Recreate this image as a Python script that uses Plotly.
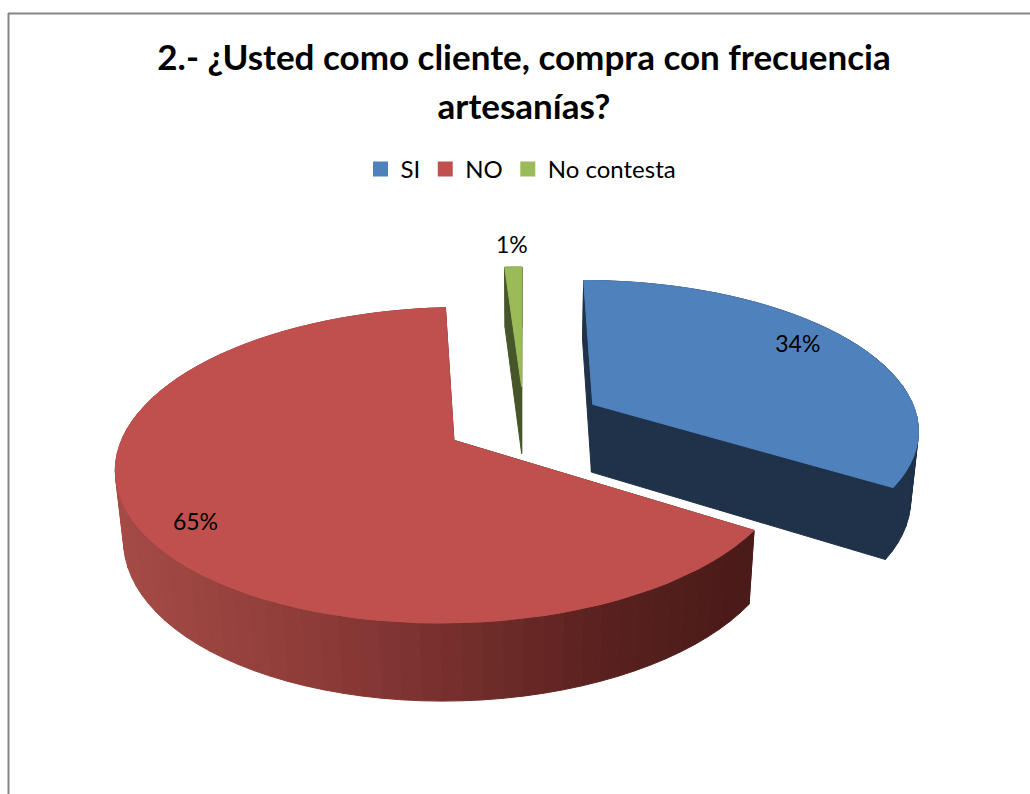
import math

import plotly.graph_objects as go

# datos
categorias = ["SI", "NO", "No contesta"]
valores = [34, 65, 1]

colores = ["#4F81BD", "#C0504D", "#9BBB59"]
colores_lado = ["#1F3249", "#4A1A18", "#46552A"]

# sombreado de la pared roja segun x en pantalla
STOPS_X = [120, 300, 450, 600, 750]
STOPS_RGB = [(165, 75, 71), (143, 61, 58), (119, 48, 45), (90, 34, 32), (74, 27, 25)]

# camara: el disco se proyecta con perspectiva sobre los pixeles de la figura
CX, CY = 524, 421.5
A, B, H = 326, 148, 70
K, M = 0.155, 0.02
PULL = 0.245
INICIO = 0
RADIO_ETIQUETA = [0.82, 0.86, 1.2]
GIRO_ETIQUETA = [-3, -5, 0]


def project(u, v, z=0):
    s = 1 / (1 + K * v + M * z)
    return CX + A * u * s, CY - (B * v - H * z) * s


def polar(angulo, r=1.0):
    a = math.radians(angulo)
    return r * math.sin(a), r * math.cos(a)


def color_pared(x):
    if x <= STOPS_X[0]:
        return "rgb(%d,%d,%d)" % STOPS_RGB[0]
    for i in range(len(STOPS_X) - 1):
        if x <= STOPS_X[i + 1]:
            t = (x - STOPS_X[i]) / (STOPS_X[i + 1] - STOPS_X[i])
            c = [p + (q - p) * t for p, q in zip(STOPS_RGB[i], STOPS_RGB[i + 1])]
            return "rgb(%d,%d,%d)" % tuple(c)
    return "rgb(%d,%d,%d)" % STOPS_RGB[-1]


def poligono(puntos, color):
    xs = [p[0] for p in puntos] + [puntos[0][0]]
    ys = [p[1] for p in puntos] + [puntos[0][1]]
    return go.Scatter(
        x=xs,
        y=ys,
        mode="lines",
        fill="toself",
        fillcolor=color,
        line=dict(color=color, width=1),
        hoverinfo="skip",
        showlegend=False,
    )


fig = go.Figure()

total = sum(valores)
tramos = []
inicio = INICIO
for v in valores:
    fin = inicio + 360 * v / total
    tramos.append((inicio, fin))
    inicio = fin

etiquetas = []
# orden de pintado: primero lo de atras
for i in [2, 0, 1]:
    a0, a1 = tramos[i]
    medio = (a0 + a1) / 2
    du, dv = polar(medio, PULL)
    n = max(2, int((a1 - a0) / 3))
    angulos = [a0 + (a1 - a0) * j / n for j in range(n + 1)]
    borde = [(du + polar(a)[0], dv + polar(a)[1]) for a in angulos]

    # caras de corte
    for extremo in (borde[0], borde[-1]):
        fig.add_trace(
            poligono(
                [
                    project(du, dv),
                    project(*extremo),
                    project(*extremo, 1),
                    project(du, dv, 1),
                ],
                colores_lado[i],
            )
        )

    # pared exterior
    for p, q in zip(borde[:-1], borde[1:]):
        xm = (project(*p)[0] + project(*q)[0]) / 2
        color = color_pared(xm) if i == 1 else colores_lado[i]
        fig.add_trace(
            poligono(
                [project(*p), project(*q), project(*q, 1), project(*p, 1)], color
            )
        )

    # cara superior
    fig.add_trace(poligono([project(du, dv)] + [project(*b) for b in borde], colores[i]))

    lu, lv = polar(medio + GIRO_ETIQUETA[i], RADIO_ETIQUETA[i])
    etiquetas.append((*project(du + lu, dv + lv), f"{valores[i]}%"))

fig.add_trace(
    go.Scatter(
        x=[e[0] for e in etiquetas],
        y=[e[1] for e in etiquetas],
        text=[e[2] for e in etiquetas],
        mode="text",
        textfont=dict(family="Lato", size=23, color="#000000"),
        hoverinfo="skip",
        showlegend=False,
    )
)

# leyenda
for nombre, color in zip(categorias, colores):
    fig.add_trace(
        go.Scatter(
            x=[None],
            y=[None],
            name=nombre,
            mode="markers",
            marker=dict(symbol="square", size=15, color=color),
        )
    )

fig.update_layout(
    width=1030,
    height=794,
    margin=dict(l=0, r=0, t=0, b=0),
    paper_bgcolor="#FFFFFF",
    plot_bgcolor="#FFFFFF",
    font=dict(family="Lato", color="#000000"),
    title=dict(
        text=(
            '<span style="font-size:35px">2.- ¿Usted como cliente, compra con frecuencia</span>'
            '<br><span style="font-size:35px">artesanías?</span>'
        ),
        font=dict(family="Lato", size=38, color="#000000", weight="bold"),
        x=524 / 1030,
        xanchor="center",
        y=1 - 70 / 794,
        yanchor="top",
        yref="container",
    ),
    legend=dict(
        orientation="h",
        x=521 / 1030,
        xanchor="center",
        y=1 - 147 / 794,
        yanchor="top",
        font=dict(family="Lato", size=24),
        itemwidth=30,
        bgcolor="rgba(0,0,0,0)",
    ),
    xaxis=dict(range=[0, 1030], visible=False, fixedrange=True),
    yaxis=dict(range=[794, 0], visible=False, fixedrange=True),
    shapes=[
        dict(type="line", xref="x", yref="y", x0=8.5, x1=8.5, y0=13, y1=794,
             line=dict(color="#868686", width=2)),
        dict(type="line", xref="x", yref="y", x0=8, x1=1030, y0=13.5, y1=13.5,
             line=dict(color="#868686", width=2)),
    ],
)

fig.write_html(
    "out.html",
    config=dict(displayModeBar=False),
    post_script="document.body.style.margin='0';",
)
